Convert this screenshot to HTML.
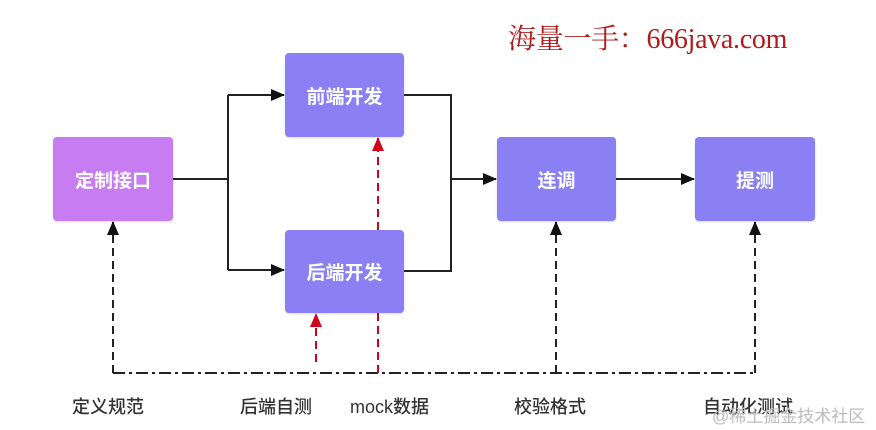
<!DOCTYPE html>
<html><head><meta charset="utf-8"><style>
html,body{margin:0;padding:0;background:#fff;width:876px;height:430px;overflow:hidden;position:relative;font-family:"Liberation Sans","Noto Sans CJK SC",sans-serif}
.b{position:absolute;border-radius:4px;background:#8a80f4;color:#fff;font-weight:bold;font-size:19px;display:flex;align-items:center;justify-content:center;box-shadow:0 1px 2px rgba(0,0,0,.15)}
.l{position:absolute;font-size:18px;color:#333;top:393px;white-space:nowrap;font-weight:500}
svg{position:absolute;left:0;top:0}
</style></head><body>
<svg width="876" height="430">
<defs>
<marker id="a" markerWidth="14" markerHeight="12" refX="13" refY="6" orient="auto" markerUnits="userSpaceOnUse"><path d="M0,0 L14,6 L0,12z" fill="#111"/></marker>
<marker id="r" markerWidth="14" markerHeight="12" refX="13" refY="6" orient="auto" markerUnits="userSpaceOnUse"><path d="M0,0 L14,6 L0,12z" fill="#d0021b"/></marker>
</defs>
<g stroke="#222" stroke-width="2" fill="none">
<path d="M173,179 H228"/>
<path d="M228,95 V270"/>
<path d="M228,95 H284" marker-end="url(#a)"/>
<path d="M228,270 H284" marker-end="url(#a)"/>
<path d="M404,95 H451 V271 H404"/>
<path d="M451,179 H496" marker-end="url(#a)"/>
<path d="M616,179 H694" marker-end="url(#a)"/>
</g>
<g stroke="#222" stroke-width="2" fill="none">
<path d="M113,373 H755" stroke-dasharray="12,4,3,4"/>
<path d="M113,373 V222" stroke-dasharray="8,5" marker-end="url(#a)"/>
<path d="M556,373 V222" stroke-dasharray="8,5" marker-end="url(#a)"/>
<path d="M755,373 V222" stroke-dasharray="8,5" marker-end="url(#a)"/>
</g>
<g stroke="#d0021b" stroke-width="2" fill="none">
<path d="M316,362 V314" stroke-dasharray="8,5" marker-end="url(#r)"/>
<path d="M378,373 V138" stroke-dasharray="8,5" marker-end="url(#r)"/>
</g>
</svg>
<div class="b" style="left:53px;top:137px;width:120px;height:84px;background:#c77cf1">定制接口</div>
<div class="b" style="left:285px;top:53px;width:119px;height:84px">前端开发</div>
<div class="b" style="left:285px;top:230px;width:119px;height:83px">后端开发</div>
<div class="b" style="left:497px;top:137px;width:119px;height:84px">连调</div>
<div class="b" style="left:695px;top:137px;width:120px;height:84px">提测</div>
<div style="position:absolute;left:508px;top:17px;font-family:'Liberation Serif','Noto Serif CJK SC',serif;font-size:28px;color:#b01a1a;white-space:nowrap;letter-spacing:-0.3px">海量一手：666java.com</div>
<div class="l" style="left:72px">定义规范</div>
<div class="l" style="left:240px">后端自测</div>
<div class="l" style="left:350px">mock数据</div>
<div class="l" style="left:514px">校验格式</div>
<div class="l" style="left:703px">自动化测试</div>
<div style="position:absolute;left:712px;top:402px;font-size:17px;color:#bbb;white-space:nowrap">@稀土掘金技术社区</div>
</body></html>
